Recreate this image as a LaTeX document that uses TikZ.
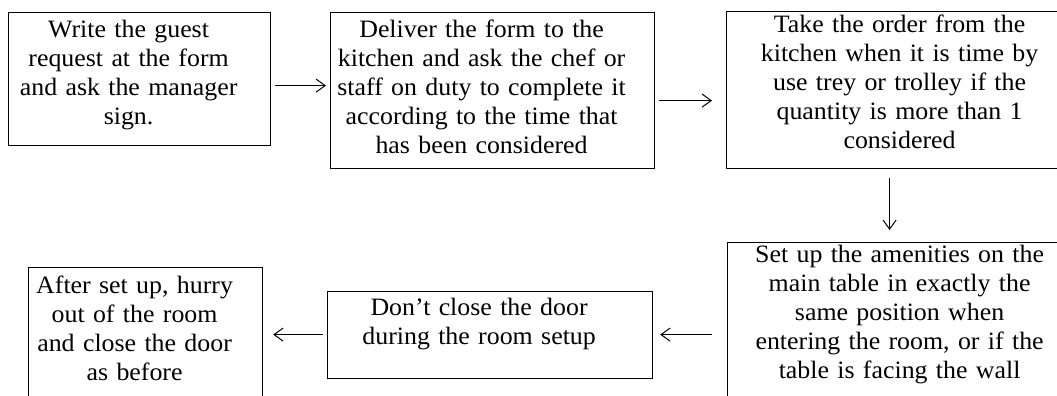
\documentclass[tikz,border=0pt]{standalone}
\usepackage{fontspec}
\setmainfont{Liberation Serif}[FakeStretch=1.035]
\usetikzlibrary{arrows.meta}

\begin{document}
\begin{tikzpicture}[
    x=0.5pt,y=-0.5pt,
    stepbox/.style={draw,line width=0.6pt,align=center,anchor=north west,
                    inner xsep=3pt,inner ysep=0pt,
                    font=\fontsize{12.5}{14.5}\selectfont,
                    execute at begin node={\leftskip=-11pt plus 1fil
                      \rightskip=0pt plus 1fil\parfillskip=0pt}},
    arr/.style={-{Straight Barb[length=4.5pt,width=6.5pt]},line width=0.5pt},
]
\useasboundingbox (0,0) rectangle (1057,396);
\clip (0,0) rectangle (1057,396);

% ---- Top row -------------------------------------------------------------
\node[stepbox,text width=125pt,text height=12.4pt,text depth=54.1pt]
    (write) at (8,12)
    {Write the guest\\ request at the form\\ and ask the manager\\ sign.};
\node[stepbox,text width=156pt,text height=12.4pt,text depth=65.6pt]
    (deliver) at (330,12)
    {Deliver the form to the\\ kitchen and ask the chef or\\
     staff on duty to complete it\\ according to the time that\\
     has been considered};
\node[stepbox,text width=178pt,text height=10.3pt,text depth=68.2pt]
    (take) at (726,11)
    {Take the order from the\\ kitchen when it is time by\\
     use trey or trolley if the\\ quantity is more than 1\\ considered};

% ---- Bottom row ----------------------------------------------------------
\node[stepbox,text width=177pt,text height=10pt,text depth=75pt]
    (amenities) at (727,242)
    {Set up the amenities on the\\ main table in exactly the\\
     same position when\\ entering the room, or if the\\
     table is facing the wall};
\node[stepbox,text width=156.5pt,text height=12pt,text depth=31.5pt]
    (door) at (327,291)
    {Don’t close the door\\ during the room setup};
\node[stepbox,text width=111pt,text height=13pt,text depth=58.5pt]
    (leave) at (28,267)
    {After set up, hurry\\ out of the room\\ and close the door\\ as before};

% ---- Arrows --------------------------------------------------------------
\draw[arr] ([shift={(4,6.5)}]write.east) -- ([shift={(-4,-5)}]deliver.west);
\draw[arr] ([shift={(4,10)}]deliver.east) -- ([shift={(-14,10.5)}]take.west);
\draw[arr] ([shift={(-21,9)}]take.south) -- ([shift={(-21,-12)}]amenities.north);
\draw[arr] ([shift={(-15,7)}]amenities.west) -- ([shift={(7,-0.5)}]door.east);
\draw[arr] ([shift={(-4,-0.5)}]door.west) -- ([shift={(10,-4.5)}]leave.east);

\end{tikzpicture}
\end{document}
